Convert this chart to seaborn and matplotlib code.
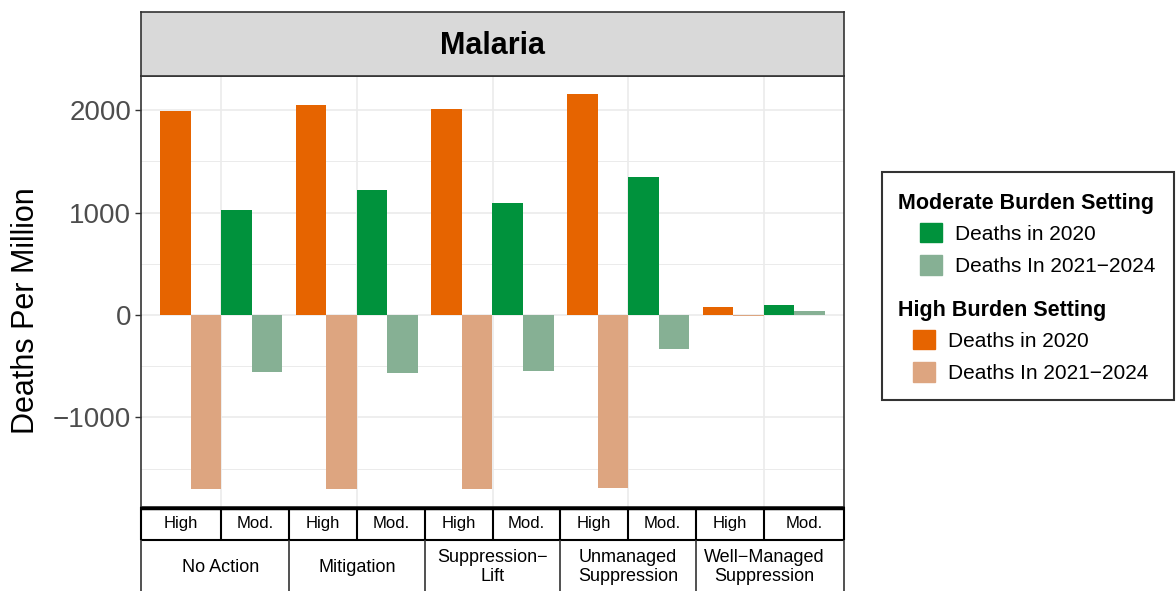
import numpy as np
import pandas as pd
import seaborn as sns
import matplotlib.pyplot as plt
from matplotlib.patches import Patch, Rectangle
from matplotlib.ticker import MultipleLocator

scenarios = ["No Action", "Mitigation", "Suppression\u2212Lift",
             "Unmanaged Suppression", "Well\u2212Managed Suppression"]
table_labels = ["No Action", "Mitigation", "Suppression\u2212\nLift",
                "Unmanaged\nSuppression", "Well\u2212Managed\nSuppression"]
high_2020 = [1990, 2050, 2015, 2155, 80]
high_2124 = [-1695, -1700, -1695, -1685, -5]
mod_2020 = [1025, 1225, 1095, 1350, 95]
mod_2124 = [-555, -570, -545, -333, 40]

series = ["High 2020", "High 2021-2024", "Mod 2020", "Mod 2021-2024"]
colors = ["#E66400", "#DDA580", "#00923C", "#86B094"]

rows = []
for i, s in enumerate(scenarios):
    for name, vals in zip(series, [high_2020, high_2124, mod_2020, mod_2124]):
        rows.append({"scenario": s, "series": name, "deaths": vals[i]})
df = pd.DataFrame(rows)

sns.set_style("white")
plt.rcParams["font.family"] = ["Liberation Sans", "DejaVu Sans"]
plt.rcParams["text.color"] = "black"
plt.rcParams["axes.labelcolor"] = "black"

W, H = 1176, 591
fig = plt.figure(figsize=(W / 100, H / 100), dpi=100)

def fx(px):
    return px / W

def fy(py):
    return 1 - py / H

left, right, top, bottom = 141, 844, 76, 507
ax = fig.add_axes([fx(left), fy(bottom), fx(right - left), (bottom - top) / H])

sns.barplot(data=df, x="scenario", y="deaths", hue="series", hue_order=series,
            palette=colors, saturation=1, width=0.9, gap=0, dodge=True,
            errorbar=None, linewidth=0, legend=False, ax=ax)

xmin, xmax = -0.59, 4.59
ax.set_xlim(xmin, xmax)
ax.set_ylim(-1875, 2334)
ax.set_yticks([-1000, 0, 1000, 2000])
ax.set_yticklabels(["\u22121000", "0", "1000", "2000"])
ax.yaxis.set_minor_locator(MultipleLocator(500))
ax.set_axisbelow(True)
ax.grid(which="major", color="#EBEBEB", lw=1.2)
ax.grid(which="minor", axis="y", color="#EBEBEB", lw=0.7)
ax.set_xticks(range(5))
ax.set_xticklabels([])
ax.tick_params(axis="x", length=0)
ax.tick_params(axis="y", which="major", length=4, width=1, color="#333333",
               labelsize=20, labelcolor="#4D4D4D", left=True, pad=3)
ax.tick_params(axis="y", which="minor", length=0)
ax.set_xlabel("")
ax.set_ylabel("Deaths Per Million", fontsize=22, color="black")
ax.yaxis.set_label_coords((41 - left) / (right - left), (bottom - 311) / (bottom - top))
for sp in ax.spines.values():
    sp.set_color("#333333")
    sp.set_linewidth(1.2)

# facet strip
sax = fig.add_axes([fx(left), fy(top), fx(right - left), (top - 12) / H])
sax.set_facecolor("#D9D9D9")
sax.set_xticks([])
sax.set_yticks([])
for sp in sax.spines.values():
    sp.set_color("#333333")
    sp.set_linewidth(1.2)
sax.text(0.5, 0.47, "Malaria", ha="center", va="center", fontsize=22,
         fontweight="bold", color="black", transform=sax.transAxes)

# table below the panel
tax = fig.add_axes([fx(left), 0, fx(right - left), (H - bottom) / H])
tax.set_xlim(xmin, xmax)
tax.set_ylim(0, H - bottom)
tax.axis("off")
r1 = H - 540
tax.hlines([H - bottom - 1], xmin, xmax, color="black", lw=2.5, clip_on=False)
tax.hlines([r1], xmin, xmax, color="black", lw=1.5, clip_on=False)
cuts = [xmin] + [v for i in range(5) for v in (i, i + 0.5)][:-1] + [xmax]
tax.vlines(cuts, r1, H - bottom, color="black", lw=1.5, clip_on=False)
tax.vlines([xmin, 0.5, 1.5, 2.5, 3.5, xmax], 0, r1, color="#333333", lw=1.2,
           clip_on=False)
for i, lab in enumerate(table_labels):
    lo = xmin if i == 0 else i - 0.5
    hi = xmax if i == 4 else i + 0.5
    tax.text((lo + i) / 2, (r1 + H - bottom) / 2, "High", ha="center",
             va="center", fontsize=12)
    tax.text((i + hi) / 2, (r1 + H - bottom) / 2, "Mod.", ha="center",
             va="center", fontsize=12)
    tax.text(i, 24, lab, ha="center", va="center", fontsize=13,
             linespacing=1.1)

# legends: two fill scales stacked in one box
leg_kw = dict(loc="upper left", frameon=False, fontsize=15, handlelength=1.05,
              handleheight=1.05, handletextpad=0.62, labelspacing=0.55,
              borderaxespad=0, borderpad=0)
fig.text(fx(898), fy(204), "Moderate Burden Setting", fontsize=15.5,
         fontweight="bold", va="center", ha="left")
fig.legend(handles=[Patch(color=colors[2], label="Deaths in 2020"),
                    Patch(color=colors[3], label="Deaths In 2021\u22122024")],
           bbox_to_anchor=(fx(920), fy(223)), **leg_kw)
fig.text(fx(898), fy(311), "High Burden Setting", fontsize=15.5,
         fontweight="bold", va="center", ha="left")
fig.legend(handles=[Patch(color=colors[0], label="Deaths in 2020"),
                    Patch(color=colors[1], label="Deaths In 2021\u22122024")],
           bbox_to_anchor=(fx(913), fy(330)), **leg_kw)
fig.patches.append(Rectangle((fx(882), fy(400)), fx(1174 - 882), (400 - 172) / H,
                             transform=fig.transFigure, fill=False,
                             ec="#333333", lw=1.5))

fig.savefig("out.png", dpi=100)
